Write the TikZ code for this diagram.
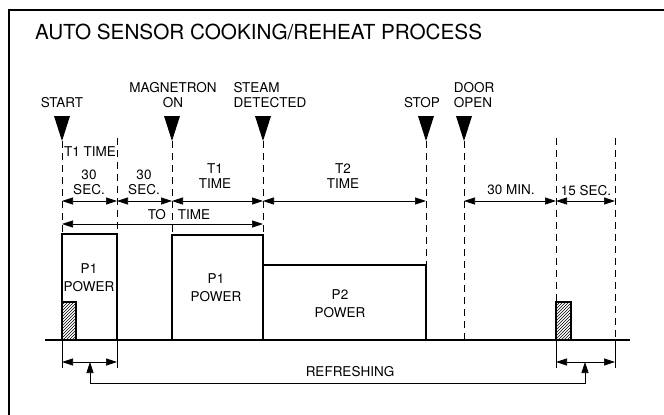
\documentclass[tikz,border=0pt]{standalone}
\usepackage{fontspec}
\setmainfont{TeX Gyre Heros}
\usetikzlibrary{arrows.meta,positioning,patterns}

\tikzset{
  lbl/.style={font=\fontsize{13.5}{15}\selectfont, inner sep=0pt, align=center},
  pwr/.style={font=\fontsize{13.5}{18}\selectfont, inner sep=0pt, align=center},
  ext/.style={dash pattern=on 7pt off 5pt, line width=0.9pt},
  dimline/.style={{Triangle[length=11pt,width=7pt]}-{Triangle[length=11pt,width=7pt]}, line width=0.7pt},
  heat/.style={line width=2pt},
}

\begin{document}
\begin{tikzpicture}[x=1pt,y=-1pt]
\useasboundingbox (0,0) rectangle (664,415);
% frame and title
\draw[line width=1.3pt] (9,415) -- (9,10) -- (664,10);
\node[anchor=base west, inner sep=0pt, font=\fontsize{20.7}{24}\selectfont] (title) at (35,39) {AUTO SENSOR COOKING/REHEAT PROCESS};

% event points
\coordinate (start) at (62,141);
\coordinate (tone) at (117,138);
\coordinate (magon) at (172,141);
\coordinate (steam) at (263,141);
\coordinate (stop) at (426,141);
\coordinate (door) at (464,141);
\coordinate (thirty) at (556,138);
\coordinate (fifteen) at (615,138);
% rows
\coordinate (rowa) at (0,201);
\coordinate (rowb) at (0,224);
\coordinate (base) at (0,340);
\coordinate (dimc) at (0,362);
\coordinate (extc) at (0,368);
\coordinate (refl) at (90,383);
\coordinate (refr) at (585,383);

% markers
\foreach \p in {start,magon,steam,stop,door}
  \fill (\p) -- ++(-8,-25) -- ++(16,0) -- cycle;

\node[lbl] (startlbl) at (62,103) {START};
\node[lbl] (magonlbl) at (173,95.5) {MAGNETRON\\ON};
\node[lbl, align=left] (steamlbl) at (270,95.5) {STEAM\\DETECTED};
\node[lbl] (stoplbl) at (422,103) {STOP};
\node[lbl, align=left] (doorlbl) at (474,95.5) {DOOR\\OPEN};

% extension lines
\draw[ext] (start) -- (62,234);
\draw[ext] (tone) -- (117,234);
\draw[ext] (magon) -- (172,235);
\draw[ext] (steam) -- (263,235);
\draw[ext] (stop) -- (426,265);
\draw[ext] (door) -- (door |- base);
\draw[ext] (thirty) -- (556,302);
\draw[ext] (fifteen) -- (fifteen |- base);

% time spans
\node[lbl] (tonetime) at (90,152) {T1 TIME};
\node[lbl] (secone) at (89,182) {30\\SEC.};
\node[lbl] (sectwo) at (144,182) {30\\SEC.};
\node[lbl] (tonespan) at (215,176) {T1\\TIME};
\node[lbl] (ttwospan) at (343,176) {T2\\TIME};
\node[lbl] (minspan) at (511,190) {30 MIN.};
\node[lbl] (secspan) at (586,191) {15 SEC.};
\node[lbl] (totime) at (179,215) {TO\hspace{12pt}TIME};

\draw[dimline] (start |- rowa) -- (tone |- rowa);
\draw[dimline] (tone |- rowa) -- (magon |- rowa);
\draw[dimline] (magon |- rowa) -- (steam |- rowa);
\draw[dimline] (steam |- rowa) -- (stop |- rowa);
\draw[dimline] (door |- rowa) -- (thirty |- rowa);
\draw[dimline] (thirty |- rowa) -- (fifteen |- rowa);
\draw[dimline] (start |- rowb) -- (steam |- rowb);

% power levels
\draw[line width=1.1pt] (45,340) -- (630,340);
\draw[heat] (start |- base) |- (117,234) -- (tone |- base);
\draw[heat] (magon |- base) |- (263,235) -- (steam |- base);
\draw[heat] (263,265) -| (stop |- base);
\draw[line width=1.3pt, pattern=north east lines] (62,302) rectangle (76,340);
\draw[line width=1.3pt, pattern=north east lines] (556,302) rectangle (571,340);

\node[pwr] (pone) at (89,277.5) {P1\\POWER};
\node[pwr] (ptwo) at (216,288) {P1\\POWER};
\node[pwr] (pthree) at (340,303.5) {P2\\POWER};

% refreshing
\foreach \p in {start,tone,thirty,fifteen}
  \draw[line width=0.7pt] (\p |- base) -- (\p |- extc);
\draw[dimline] (start |- dimc) -- (tone |- dimc);
\draw[dimline] (thirty |- dimc) -- (fifteen |- dimc);
\draw[dimline] (refl |- dimc) -- (refl) -- (refr) -- (refr |- dimc);
\node[lbl] (refresh) at (350,372) {REFRESHING};
\end{tikzpicture}
\end{document}
